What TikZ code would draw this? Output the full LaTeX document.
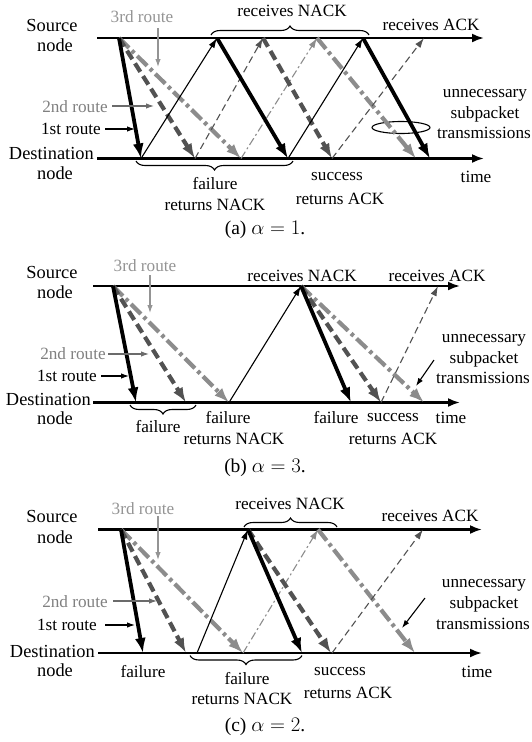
\documentclass[tikz,border=0pt]{standalone}
\usepackage{fontspec}
\setmainfont{Liberation Serif}
\usetikzlibrary{arrows.meta,decorations.pathreplacing}
\definecolor{dg}{gray}{0.32}
\definecolor{mg}{gray}{0.42}
\definecolor{lg}{gray}{0.55}
\definecolor{tg}{gray}{0.50}
\definecolor{tlg}{gray}{0.58}
\begin{document}
\begin{tikzpicture}[x=1pt,y=-1pt,
 tline/.style={line width=2.2pt,-{Latex[length=12pt,width=9pt]}},
 bighead/.style={-{Latex[length=15pt,width=11pt]}},
 smhead/.style={-{Latex[length=10pt,width=6.5pt]}},
 kthick/.style={bighead,line width=3.8pt,black},
 dthick/.style={bighead,line width=4.2pt,dg,dash pattern=on 10pt off 5pt},
 lthick/.style={bighead,line width=4.2pt,lg,dash pattern=on 14pt off 4pt on 3.5pt off 4pt},
 kthin/.style={smhead,line width=1.1pt,black},
 dthin/.style={smhead,line width=1.1pt,dg,dash pattern=on 7pt off 4pt},
 lthin/.style={smhead,line width=1.1pt,lg,dash pattern=on 8pt off 3pt on 2pt off 3pt},
 ptr/.style={-{Latex[length=8pt,width=5.5pt]},line width=1.1pt},
 txt/.style={inner sep=0pt,font=\fontsize{17.2}{19}\selectfont},
 ntxt/.style={inner sep=0pt,font=\fontsize{18.4}{20}\selectfont},
 captxt/.style={inner sep=0pt,font=\fontsize{19.5}{21}\selectfont},
 brc/.style={decorate,decoration={brace,amplitude=9pt},line width=1.1pt},
 mbrc/.style={decorate,decoration={brace,amplitude=9pt,mirror},line width=1.1pt}]
\useasboundingbox (0,0) rectangle (531,742);

% ================= panel (a) =================
\coordinate (aS0) at (97,38); \coordinate (aS1) at (484,38);
\coordinate (aD0) at (97,158.5); \coordinate (aD1) at (484,158.5);
\draw[tline] (aS0) -- (aS1);
\draw[tline] (aD0) -- (aD1);
\foreach \n/\x in {0/119,1/217,2/263,3/317,4/363,5/424} \coordinate (at\n) at (\x,38);
\foreach \n/\x in {1/141,2/195,3/241,4/288,5/332,6/416,7/430} \coordinate (ab\n) at (\x,158.5);
\draw[line width=1.1pt] (401,127.5) ellipse [x radius=29pt, y radius=6pt];
\draw[lthick] (at0) -- (ab3);
\draw[dthick] (at0) -- (ab2);
\draw[kthick] (at0) -- (ab1);
\draw[kthin] (ab1) -- (at1);
\draw[dthin] (ab2) -- (at2);
\draw[lthin] (ab3) -- (at3);
\draw[lthick] (at3) -- (ab6);
\draw[dthick] (at2) -- (ab5);
\draw[kthick] (at1) -- (ab4);
\draw[kthin] (ab4) -- (at4);
\draw[dthin] (ab5) -- (at5);
\draw[kthick] (at4) -- (ab7);
\draw[brc] (211,35) -- (369,35);
\draw[mbrc] (136,161) -- (293,161);
\node[ntxt] (aSrc) at (52,25) {Source};
\node[ntxt] (aSrcn) at (55,45) {node};
\node[ntxt,anchor=east] (aDst) at (94,153) {Destination};
\node[ntxt] (aDstn) at (55,173) {node};
\node[txt] (aRN) at (292,11) {receives NACK};
\node[txt] (aRA) at (431,25) {receives ACK};
\node[txt] (aF) at (215,184) {failure};
\node[txt] (aFR) at (215,205) {returns NACK};
\node[txt] (aSu) at (337,177) {success};
\node[txt] (aSuR) at (340,199) {returns ACK};
\node[txt] (aT) at (476,177) {time};
\node[txt] (aU1) at (485,95) {unnecessary};
\node[txt] (aU2) at (485,114) {subpacket};
\node[txt] (aU3) at (484,133) {transmissions};
\node[txt,text=tlg] (aR3) at (142,17) {3rd route};
\coordinate (aR3a) at (158,28); \coordinate (aR3b) at (158,67);
\draw[ptr,tlg] (aR3a) -- (aR3b);
\node[txt,text=tg] (aR2) at (75,107) {2nd route};
\coordinate (aR2a) at (112,106); \coordinate (aR2b) at (154,106);
\draw[ptr,mg] (aR2a) -- (aR2b);
\node[txt] (aR1) at (71,129) {1st route};
\coordinate (aR1a) at (105,129); \coordinate (aR1b) at (135,129);
\draw[ptr] (aR1a) -- (aR1b);
\node[captxt] (aCap) at (265,230) {(a) $\alpha = 1$.};

% ================= panel (b) =================
\coordinate (bS0) at (93,286); \coordinate (bS1) at (460,286);
\coordinate (bD0) at (93,402.5); \coordinate (bD1) at (460,402.5);
\draw[tline] (bS0) -- (bS1);
\draw[tline] (bD0) -- (bD1);
\foreach \n/\x in {0/113,1/301,2/438} \coordinate (bt\n) at (\x,286);
\foreach \n/\x in {1/136,2/186,3/229,4/351,5/381,6/424} \coordinate (bb\n) at (\x,402.5);
\draw[lthick] (bt0) -- (bb3);
\draw[dthick] (bt0) -- (bb2);
\draw[kthick] (bt0) -- (bb1);
\draw[kthin] (bb3) -- (bt1);
\draw[lthick] (bt1) -- (bb6);
\draw[dthick] (bt1) -- (bb5);
\draw[kthick] (bt1) -- (bb4);
\draw[dthin] (bb5) -- (bt2);
\draw[mbrc] (130,405) -- (196,405);
\node[ntxt] (bSrc) at (52,272) {Source};
\node[ntxt] (bSrcn) at (55,292) {node};
\node[ntxt,anchor=east] (bDst) at (91,399) {Destination};
\node[ntxt] (bDstn) at (55,418) {node};
\node[txt] (bRN) at (302,276) {receives NACK};
\node[txt] (bRA) at (437,276) {receives ACK};
\node[txt] (bF0) at (158,427) {failure};
\node[txt] (bF1) at (228,418) {failure};
\node[txt] (bF1R) at (234,439) {returns NACK};
\node[txt] (bF2) at (336,418) {failure};
\node[txt] (bSu) at (393,418) {success};
\node[txt] (bSuR) at (393,439) {returns ACK};
\node[txt] (bT) at (451,418) {time};
\node[txt] (bU1) at (484,340) {unnecessary};
\node[txt] (bU2) at (484,359) {subpacket};
\node[txt] (bU3) at (483,378) {transmissions};
\coordinate (bUa) at (434,360); \coordinate (bUb) at (416,386);
\draw[ptr] (bUa) -- (bUb);
\node[txt,text=tlg] (bR3) at (145,266) {3rd route};
\coordinate (bR3a) at (150,275); \coordinate (bR3b) at (150,313);
\draw[ptr,tlg] (bR3a) -- (bR3b);
\node[txt,text=tg] (bR2) at (73,354) {2nd route};
\coordinate (bR2a) at (108,354); \coordinate (bR2b) at (149,354);
\draw[ptr,mg] (bR2a) -- (bR2b);
\node[txt] (bR1) at (67,376) {1st route};
\coordinate (bR1a) at (101,376); \coordinate (bR1b) at (129,376);
\draw[ptr] (bR1a) -- (bR1b);
\node[captxt] (bCap) at (265,468) {(b) $\alpha = 3$.};

% ================= panel (c) =================
\coordinate (cS0) at (98,529.5); \coordinate (cS1) at (482,529.5);
\coordinate (cD0) at (98,653); \coordinate (cD1) at (482,653);
\draw[tline] (cS0) -- (cS1);
\draw[tline] (cD0) -- (cD1);
\foreach \n/\x in {0/121,1/248,2/318,3/423} \coordinate (ct\n) at (\x,529.5);
\foreach \n/\x in {1/143,2/186,3/243,4/197,5/302,6/331,7/415,8/332} \coordinate (cb\n) at (\x,653);
\draw[lthick] (ct0) -- (cb3);
\draw[dthick] (ct0) -- (cb2);
\draw[kthick] (ct0) -- (cb1);
\draw[kthin] (cb4) -- (ct1);
\draw[lthin] (cb3) -- (ct2);
\draw[lthick] (ct2) -- (cb7);
\draw[dthick] (ct1) -- (cb6);
\draw[kthick] (ct1) -- (cb5);
\draw[dthin] (cb8) -- (ct3);
\draw[brc] (244,527) -- (337,527);
\draw[mbrc] (190,655.5) -- (302,655.5);
\node[ntxt] (cSrc) at (52,516) {Source};
\node[ntxt] (cSrcn) at (55,537) {node};
\node[ntxt,anchor=east] (cDst) at (95,651) {Destination};
\node[ntxt] (cDstn) at (55,670) {node};
\node[txt] (cRN) at (290,504) {receives NACK};
\node[txt] (cRA) at (430,516) {receives ACK};
\node[txt] (cF0) at (143,672) {failure};
\node[txt] (cF1) at (247,679) {failure};
\node[txt] (cF1R) at (242,699) {returns NACK};
\node[txt] (cSu) at (340,672) {success};
\node[txt] (cSuR) at (348,693) {returns ACK};
\node[txt] (cT) at (477,672) {time};
\node[txt] (cU1) at (484,585) {unnecessary};
\node[txt] (cU2) at (484,604) {subpacket};
\node[txt] (cU3) at (483,624) {transmissions};
\coordinate (cUa) at (425,598); \coordinate (cUb) at (402,628);
\draw[ptr] (cUa) -- (cUb);
\node[txt,text=tlg] (cR3) at (143,509) {3rd route};
\coordinate (cR3a) at (158,516); \coordinate (cR3b) at (158,560);
\draw[ptr,tlg] (cR3a) -- (cR3b);
\node[txt,text=tg] (cR2) at (75,602) {2nd route};
\coordinate (cR2a) at (113,601); \coordinate (cR2b) at (157,601);
\draw[ptr,mg] (cR2a) -- (cR2b);
\node[txt] (cR1) at (67,625) {1st route};
\coordinate (cR1a) at (105,625); \coordinate (cR1b) at (135,625);
\draw[ptr] (cR1a) -- (cR1b);
\node[captxt] (cCap) at (265,727) {(c) $\alpha = 2$.};
\end{tikzpicture}
\end{document}
